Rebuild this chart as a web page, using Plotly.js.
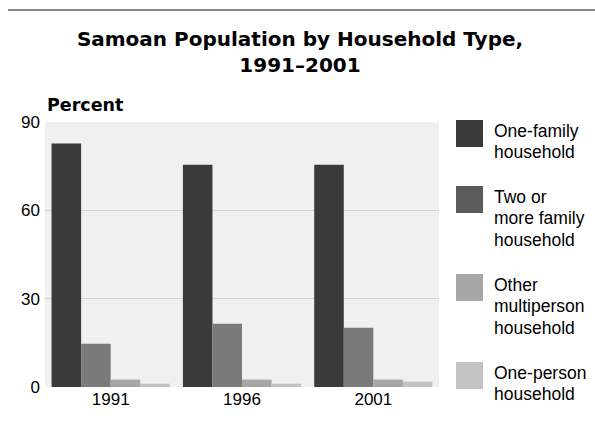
<!DOCTYPE html>
<html>
<head>
<meta charset="utf-8">
<script src="https://cdn.plot.ly/plotly-3.0.1.min.js"></script>
<style>html,body{margin:0;padding:0;background:#fff;}#chart{width:595px;height:439px;}</style>
</head>
<body>
<div id="chart"></div>
<script>
const years = ['1991', '1996', '2001'];
const seriesNames = ['One-family household', 'Two or more family household', 'Other multiperson household', 'One-person household'];
const legendLines = [['One-family', 'household'], ['Two or', 'more family', 'household'], ['Other', 'multiperson', 'household'], ['One-person', 'household']];
const oneFamily = [82.7, 75.5, 75.5];
const twoOrMore = [14.7, 21.5, 20.1];
const otherMulti = [2.5, 2.5, 2.5];
const onePerson = [1.1, 1.1, 1.8];
const yTicks = [0, 30, 60, 90];

const barColors = ['#3a3a3a', '#7a7a7a', '#a6a6a6', '#c2c2c2'];
const legendColors = ['#3a3a3a', '#5a5a5a', '#a6a6a6', '#c3c3c3'];
const values = [oneFamily, twoOrMore, otherMulti, onePerson];

const FONT = 'Liberation Sans, Arial, sans-serif';
const BOLDFONT = 'DejaVu Sans, Liberation Sans, sans-serif';
const W = 595, H = 439;
const M = {l: 45, r: 156, t: 122, b: 52};
const plotW = W - M.l - M.r, plotH = H - M.t - M.b;
const px2x = p => (p - M.l) / plotW;
const px2y = p => (H - M.b - p) / plotH;

const traces = values.map((v, i) => ({
  type: 'bar', x: years, y: v, name: seriesNames[i],
  marker: {color: barColors[i], line: {width: 0}},
  showlegend: false, hoverinfo: 'skip'
}));

const shapes = [{
  type: 'line', xref: 'paper', yref: 'paper',
  x0: px2x(8), x1: px2x(595), y0: px2y(10), y1: px2y(10),
  line: {color: '#8a8a8a', width: 2}
}];
const annotations = [{
  text: '<b>Percent</b>', xref: 'paper', yref: 'paper',
  x: px2x(45), y: px2y(105), xanchor: 'left', yanchor: 'middle',
  showarrow: false, font: {family: BOLDFONT, size: 17.5, color: '#000'}
}];

let itemTop = 120;
const lineStep = 21.5;
legendLines.forEach((lines, i) => {
  shapes.push({
    type: 'rect', xref: 'paper', yref: 'paper',
    x0: px2x(456), x1: px2x(483), y0: px2y(itemTop), y1: px2y(itemTop + 27),
    fillcolor: legendColors[i], line: {width: 0}
  });
  lines.forEach((ln, j) => {
    annotations.push({
      text: ln, xref: 'paper', yref: 'paper',
      x: px2x(492), y: px2y(itemTop + 10.5 + j * lineStep), xanchor: 'left', yanchor: 'middle',
      showarrow: false, font: {family: FONT, size: 17.5, color: '#000'}
    });
  });
  itemTop += (lines.length + 1) * 22;
});

const layout = {
  width: W, height: H,
  margin: M,
  paper_bgcolor: '#ffffff', plot_bgcolor: '#f0f0f0',
  barmode: 'group', bargap: 0.1, bargroupgap: 0,
  font: {family: FONT, color: '#000'},
  title: {
    text: '<b>Samoan Population by Household Type,<br>1991–2001</b>',
    x: 300 / W, xanchor: 'center', xref: 'container',
    y: 1 - 46 / H, yanchor: 'top', yref: 'container',
    font: {family: BOLDFONT, size: 20, color: '#000'}
  },
  xaxis: {
    type: 'category', tickfont: {family: FONT, size: 17, color: '#000'},
    showgrid: false, zeroline: false, showline: false, ticks: '', fixedrange: true
  },
  yaxis: {
    range: [0, 90], tickvals: yTicks, ticktext: yTicks.map(String),
    tickfont: {family: FONT, size: 17, color: '#000'},
    showgrid: true, gridcolor: '#d4d4d4', gridwidth: 1.5,
    zeroline: false, showline: false, ticks: '', ticklabelstandoff: 4, fixedrange: true
  },
  shapes: shapes,
  annotations: annotations,
  showlegend: false
};

Plotly.newPlot('chart', traces, layout, {displayModeBar: false, staticPlot: true});
</script>
</body>
</html>
